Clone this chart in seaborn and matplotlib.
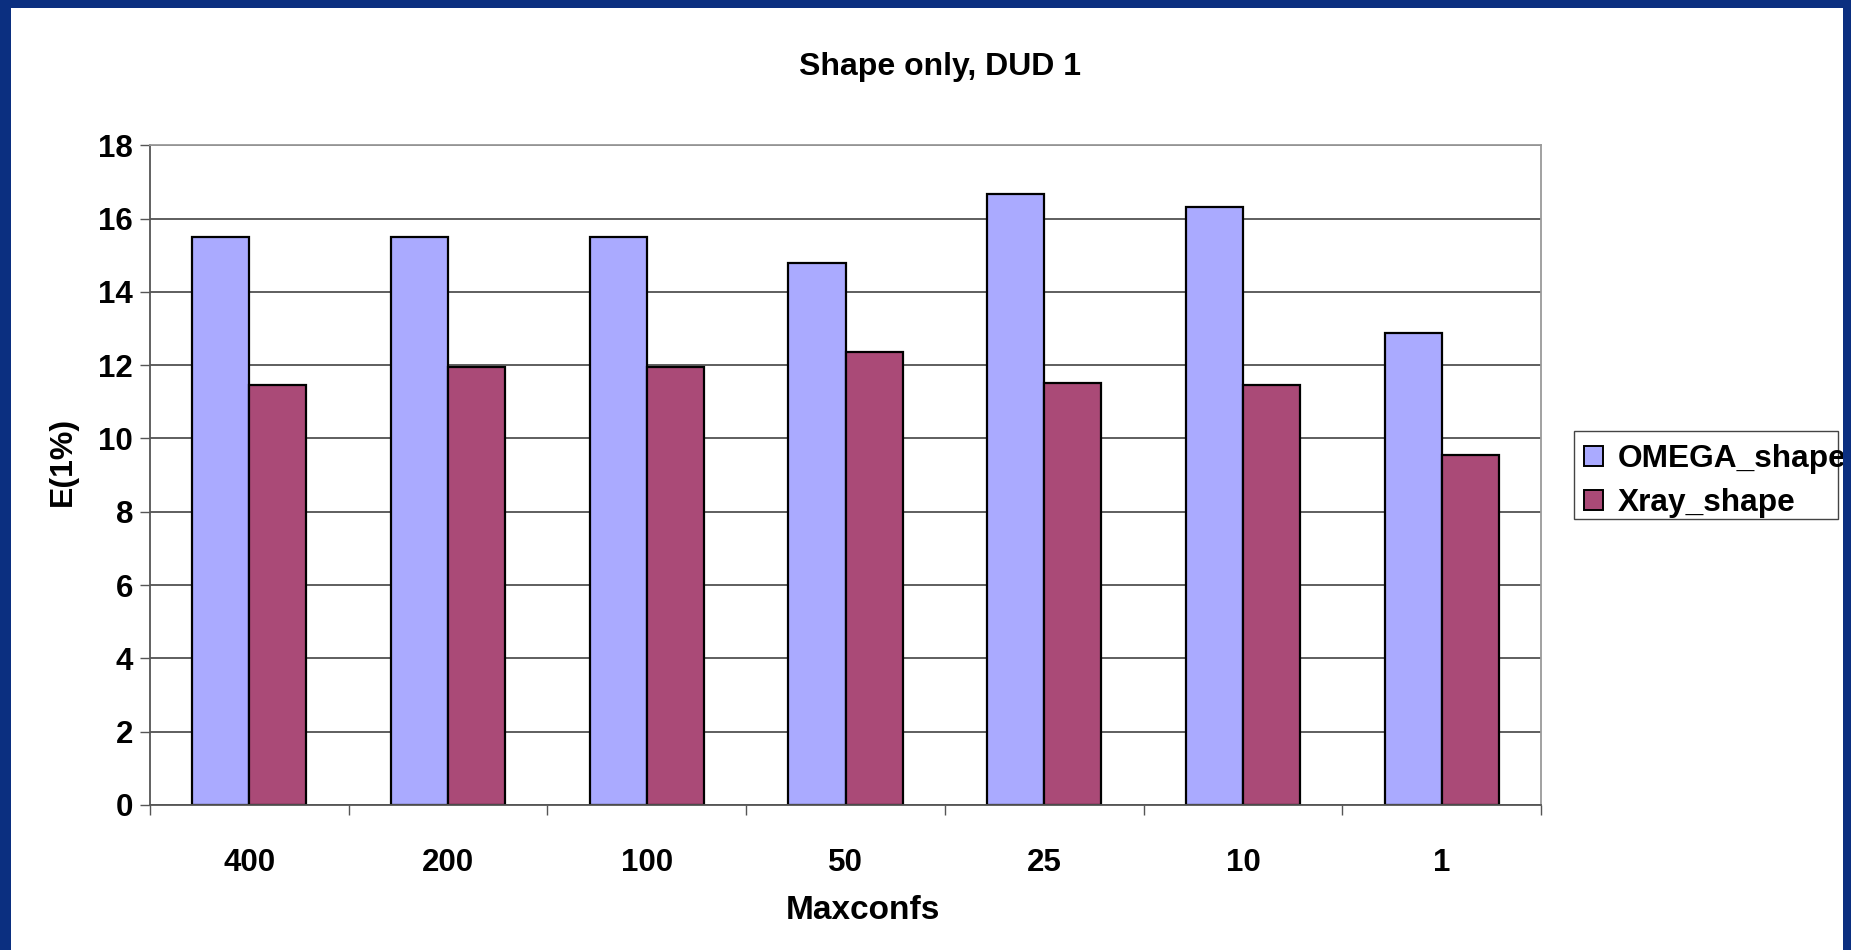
import matplotlib
matplotlib.use("Agg")
import matplotlib.pyplot as plt
from matplotlib.patches import Rectangle, Patch
from matplotlib.ticker import FixedLocator, MultipleLocator
import pandas as pd
import seaborn as sns

# ---- data -------------------------------------------------------------
categories = ["400", "200", "100", "50", "25", "10", "1"]
omega_shape = [15.5, 15.5, 15.5, 14.8, 16.67, 16.33, 12.87]
xray_shape = [11.45, 11.95, 11.95, 12.36, 11.52, 11.45, 9.55]
series_names = ["OMEGA_shape", "Xray_shape"]
series_colors = ["#AAAAFF", "#AA4A77"]

title = "Shape only, DUD 1"
x_label = "Maxconfs"
y_label = "E(1%)"

df = pd.DataFrame({
    "Maxconfs": categories * 2,
    "E": omega_shape + xray_shape,
    "series": [series_names[0]] * len(categories) + [series_names[1]] * len(categories),
})

# ---- figure -----------------------------------------------------------
sns.set_theme(style="white")
plt.rcParams["font.family"] = ["Liberation Sans", "DejaVu Sans"]
plt.rcParams["font.weight"] = "bold"
plt.rcParams["text.color"] = "black"
plt.rcParams["axes.labelcolor"] = "black"
plt.rcParams["xtick.color"] = "black"
plt.rcParams["ytick.color"] = "black"

W, H = 1851, 950
fig = plt.figure(figsize=(W / 100, H / 100), dpi=100)
fig.patch.set_facecolor("white")

ax = fig.add_axes([150 / W, 1 - 805 / H, (1541 - 150) / W, (805 - 145.3) / H])
ax.set_facecolor("white")

sns.barplot(
    data=df, x="Maxconfs", y="E", hue="series", order=categories,
    hue_order=series_names, palette=series_colors, saturation=1,
    width=0.574, edgecolor="black", linewidth=1.6, legend=False, ax=ax,
)

ax.set_xlim(-0.5, len(categories) - 0.5)
ax.set_ylim(0, 18)
ax.yaxis.set_major_locator(MultipleLocator(2))
ax.set_axisbelow(True)
ax.yaxis.grid(True, color="#333333", linewidth=1.1)
ax.xaxis.grid(False)

for side in ("top", "right"):
    ax.spines[side].set_color("#9a9a9a")
    ax.spines[side].set_linewidth(1.3)
for side in ("left", "bottom"):
    ax.spines[side].set_color("#555555")
    ax.spines[side].set_linewidth(1.3)

# group boundary tick marks on the category axis
ax.xaxis.set_minor_locator(FixedLocator([i - 0.5 for i in range(len(categories) + 1)]))
ax.tick_params(axis="x", which="minor", bottom=True, length=7.5, width=1.0,
               color="#555555", direction="out")
ax.tick_params(axis="x", which="major", bottom=True, length=0, pad=31,
               labelsize=22.5, labelcolor="black")
ax.tick_params(axis="y", which="major", left=True, length=7.2, width=1.0,
               color="#555555", direction="out", pad=5, labelsize=22.5,
               labelcolor="black")
for lab in ax.get_xticklabels() + ax.get_yticklabels():
    lab.set_fontweight("bold")

ax.set_xlabel(x_label, fontsize=24, fontweight="bold", va="top", color="black")
ax.xaxis.set_label_coords((863 - 150) / 1391, (805 - 895) / 659.7)
ax.set_ylabel(y_label, fontsize=23, fontweight="bold", color="black")
ax.yaxis.set_label_coords((78 - 150) / 1391, (805 - 461) / 659.7)

fig.text(940 / W, 1 - 75.5 / H, title, ha="center", va="baseline",
         fontsize=23, fontweight="bold", color="black")

# legend with a fixed frame
handles = [Patch(facecolor=c, edgecolor="black", linewidth=1.4) for c in series_colors]
fig.legend(handles, series_names, loc="upper left",
           bbox_to_anchor=(1584 / W, 1 - 444 / H), bbox_transform=fig.transFigure,
           frameon=False, borderpad=0, borderaxespad=0,
           handlelength=0.6, handleheight=0.6, handletextpad=0.47,
           labelspacing=0.45, prop={"size": 22.8, "weight": "bold"},
           labelcolor="black")
fig.patches.append(Rectangle((1574 / W, 1 - 519 / H), 264 / W, 88 / H,
                             transform=fig.transFigure, fill=False,
                             edgecolor="#444444", linewidth=1.0, zorder=5))

# slide frame
blue = "#0b2f80"
for (x0, y0, w, h) in [(0, 0, 11, H), (0, 0, W, 8), (1843, 0, W - 1843, H)]:
    fig.patches.append(Rectangle((x0 / W, 1 - (y0 + h) / H), w / W, h / H,
                                 transform=fig.transFigure, facecolor=blue,
                                 edgecolor="none", zorder=20))

fig.savefig("out.png", dpi=100)
